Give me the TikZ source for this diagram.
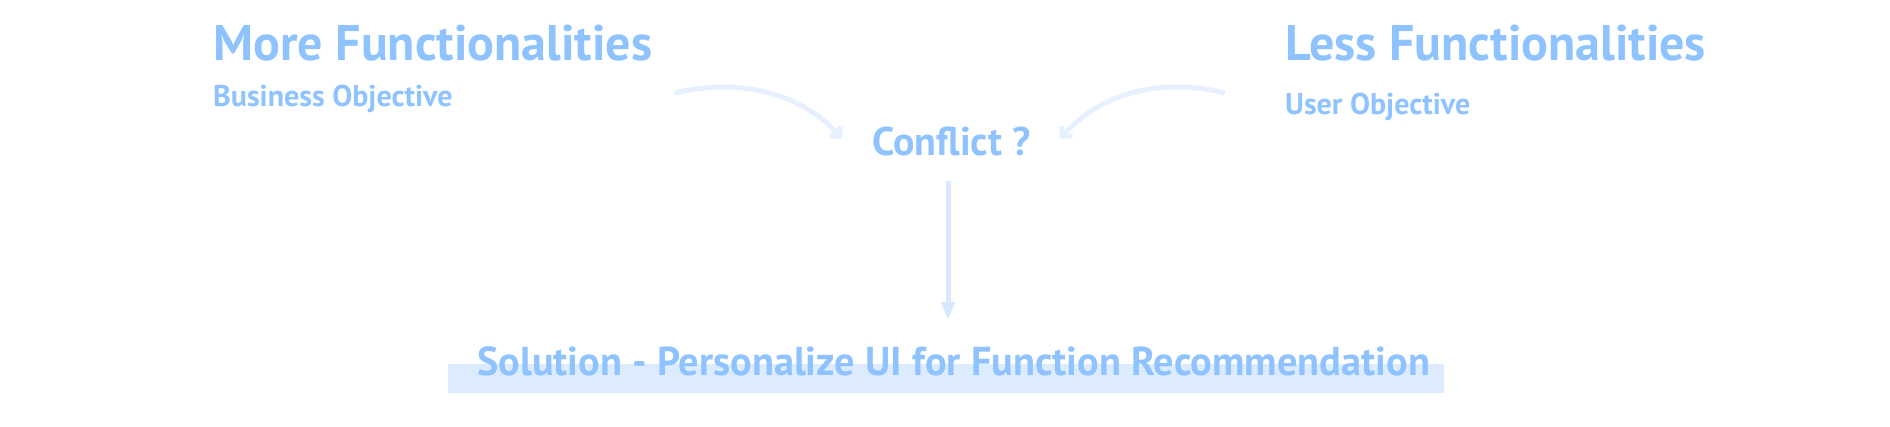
\documentclass[tikz,border=0pt]{standalone}
\usepackage{fontspec}
\setmainfont{PT Sans}
\usetikzlibrary{arrows.meta}
\definecolor{txtblue}{HTML}{8EC3FF}
\definecolor{curveblue}{HTML}{E6F0FF}
\definecolor{vertblue}{HTML}{D8E8FF}
\definecolor{barblue}{HTML}{DDEBFF}
\tikzset{
  lbl/.style={anchor=base west, inner sep=0pt, text=txtblue, font=\bfseries},
  curvearrow/.style={draw=curveblue, line width=5pt, -{Straight Barb[angle=90:10pt, line width=5pt, sharp]}},
  downarrow/.style={draw=vertblue, line width=5pt, -{Triangle[width=13pt,length=18pt]}}
}
\begin{document}
\begin{tikzpicture}[x=1pt,y=1pt]
\useasboundingbox (0,0) rectangle (1890,-426);
\fill[barblue] (448,-364) rectangle (1444,-393);
\node[lbl, font=\bfseries\fontsize{50}{58}\selectfont] (more) at (213,-60) {More Functionalities};
\node[lbl, font=\bfseries\fontsize{30}{36}\selectfont] (bizobj) at (213,-106) {Business Objective};
\node[lbl, font=\bfseries\fontsize{50}{58}\selectfont] (less) at (1285,-60) {Less Functionalities};
\node[lbl, font=\bfseries\fontsize{30}{36}\selectfont] (userobj) at (1285,-114) {User Objective};
\node[lbl, font=\bfseries\fontsize{40}{48}\selectfont] (conflict) at (872,-155) {Conflict ?};
\node[lbl, font=\bfseries\fontsize{40.3}{48}\selectfont] (solution) at (477,-375) {Solution - Personalize UI for Function Recommendation};
\coordinate (ls) at (675,-93);
\coordinate (lt) at (842,-139);
\coordinate (rs) at (1225,-93);
\coordinate (rt) at (1060,-139);
\coordinate (vs) at (948,-181);
\coordinate (vt) at (948,-320);
\draw[curvearrow] (ls) .. controls (750,-75) and (808,-100) .. (lt);
\draw[curvearrow] (rs) .. controls (1150,-75) and (1094,-100) .. (rt);
\draw[downarrow] (vs) -- (vt);
\end{tikzpicture}
\end{document}
